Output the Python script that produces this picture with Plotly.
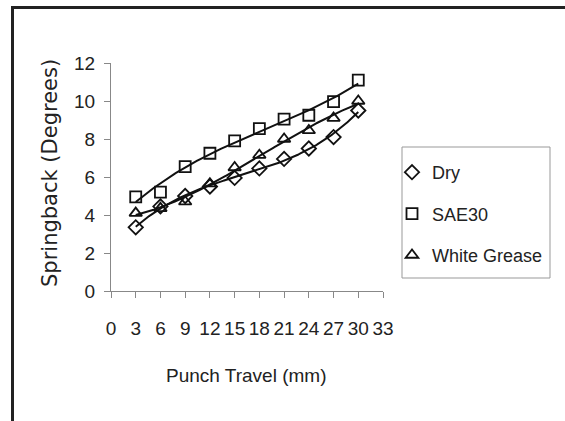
import numpy as np
import plotly.graph_objects as go

travel = [3, 6, 9, 12, 15, 18, 21, 24, 27, 30]
dry = [3.35, 4.45, 5.0, 5.5, 5.95, 6.45, 6.95, 7.5, 8.1, 9.5]
sae30 = [4.95, 5.2, 6.55, 7.25, 7.9, 8.55, 9.05, 9.25, 9.97, 11.1]
white_grease = [4.1, 4.35, 4.7, 5.65, 6.5, 7.15, 8.0, 8.45, 9.1, 10.0]
x_ticks = list(range(0, 34, 3))
y_ticks = list(range(0, 13, 2))

series = [
    ("Dry", dry, "diamond-open"),
    ("SAE30", sae30, "square-open"),
    ("White Grease", white_grease, "triangle-up-open"),
]

FONT = "Arial, Liberation Sans, sans-serif"
TXT = "#222222"
fig = go.Figure()

xs = np.linspace(min(travel), max(travel), 200)
for name, vals, sym in series:
    coef = np.polyfit(travel, vals, 3)
    fig.add_trace(go.Scatter(x=xs, y=np.polyval(coef, xs), mode="lines",
                             line=dict(color="#111111", width=2),
                             showlegend=False, hoverinfo="skip"))
for i, (name, vals, sym) in enumerate(series):
    fig.add_trace(go.Scatter(x=travel, y=vals, mode="markers", name=name,
                             legendgroup=f"g{i}",
                             marker=dict(symbol=sym, size=11, color="#111111",
                                         line=dict(width=1.8, color="#111111"))))

W, H = 565, 421
L, R, T, B = 111, 383, 63, 291
def px(x):
    return (x - L) / (R - L)
def py(y):
    return (B - y) / (B - T)

fig.update_layout(
    width=W, height=H,
    margin=dict(l=L, r=W - R, t=T, b=H - B, autoexpand=False),
    paper_bgcolor="white", plot_bgcolor="white",
    font=dict(family=FONT, size=19, color=TXT),
    legend=dict(x=px(392), y=py(154), xanchor="left", yanchor="top",
                borderwidth=0, bgcolor="rgba(0,0,0,0)",
                tracegroupgap=15, font=dict(family=FONT, size=18, color=TXT),
                itemwidth=30),
    xaxis=dict(range=[0, 33], tickmode="array", tickvals=x_ticks,
               tickangle=0,
               ticks="outside", ticklen=6, tickcolor="#888888",
               ticklabelstandoff=14,
               showline=True, linecolor="#888888", linewidth=1,
               showgrid=False, zeroline=False),
    yaxis=dict(range=[0, 12], tickmode="array", tickvals=y_ticks,
               ticks="outside", ticklen=6,
               tickcolor="#888888", showline=True, linecolor="#888888",
               ticklabelstandoff=5,
               linewidth=1, showgrid=False, zeroline=False),
    annotations=[
        dict(text="Punch Travel (mm)", xref="paper", yref="paper",
             x=px(246), y=py(375), xanchor="center", yanchor="middle",
             showarrow=False, font=dict(family=FONT, size=19, color=TXT)),
        dict(text="Springback (Degrees)", xref="paper", yref="paper",
             x=px(50), y=py(173), xanchor="center", yanchor="middle",
             textangle=-90, showarrow=False,
             font=dict(family="DejaVu Sans, sans-serif", size=21, color=TXT)),
    ],
    shapes=[
        dict(type="line", xref="paper", yref="paper", x0=px(12.5), x1=px(566),
             y0=py(7.5), y1=py(7.5), line=dict(color="#222222", width=3)),
        dict(type="line", xref="paper", yref="paper", x0=px(12.5), x1=px(12.5),
             y0=py(6), y1=py(421), line=dict(color="#222222", width=3)),
        dict(type="rect", xref="paper", yref="paper", x0=px(402), x1=px(550),
             y0=py(147), y1=py(278), line=dict(color="#999999", width=1)),
    ],
)

fig.write_html("out.html")
